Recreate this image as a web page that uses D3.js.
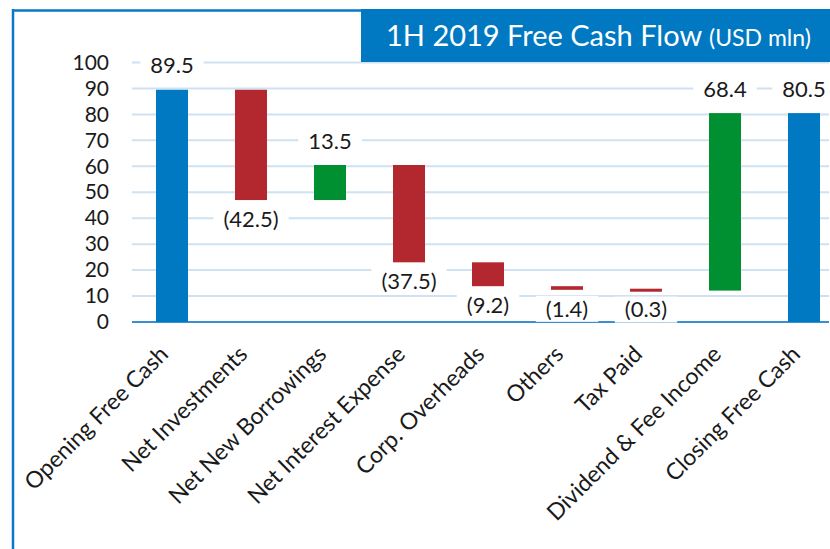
<!DOCTYPE html>
<html>
<head>
<meta charset="utf-8">
<script src="https://cdn.jsdelivr.net/npm/d3@7"></script>
<style>
  html, body { margin: 0; padding: 0; background: #fff; }
  svg { display: block; }
</style>
</head>
<body>
<svg id="chart" width="830" height="549"></svg>
<script>
const categories = ["Opening Free Cash", "Net Investments", "Net New Borrowings", "Net Interest Expense",
  "Corp. Overheads", "Others", "Tax Paid", "Dividend & Fee Income", "Closing Free Cash"];
const changes = [89.5, -42.5, 13.5, -37.5, -9.2, -1.4, -0.3, 68.4, 80.5];
const kinds = ["total", "delta", "delta", "delta", "delta", "delta", "delta", "delta", "total"];
const labels = ["89.5", "(42.5)", "13.5", "(37.5)", "(9.2)", "(1.4)", "(0.3)", "68.4", "80.5"];
const yTicks = [0, 10, 20, 30, 40, 50, 60, 70, 80, 90, 100];
const titleMain = "1H 2019 Free Cash Flow";
const titleUnit = "(USD mln)";

const colors = { total: "#0079c2", up: "#008f31", down: "#b3272e" };
const fontFam = "Lato, 'Open Sans', sans-serif";

// build waterfall
let run = 0;
const data = categories.map((c, i) => {
  let start, end, type;
  if (kinds[i] === "total") { start = 0; end = changes[i]; type = "total"; run = changes[i]; }
  else { start = run; end = run + changes[i]; run = end; type = changes[i] >= 0 ? "up" : "down"; }
  return { cat: c, start, end, type, label: labels[i], v: changes[i] };
});

const svg = d3.select("#chart");
const x = d3.scaleBand().domain(categories).range([132.5, 843.5]).paddingInner(0.595).paddingOuter(0.2975);
const y = d3.scaleLinear().domain([0, 100]).range([322, 62.5]);

svg.append("defs").append("clipPath").attr("id", "clip")
  .append("rect").attr("x", 0).attr("y", 0).attr("width", 829).attr("height", 549);

const g = svg.append("g").attr("clip-path", "url(#clip)");

// gridlines
g.append("g").selectAll("line").data(yTicks.filter(t => t > 0)).join("line")
  .attr("x1", 132).attr("x2", 830)
  .attr("y1", d => y(d)).attr("y2", d => y(d))
  .attr("stroke", "#cfe2f2").attr("stroke-width", 2);

// zero line
g.append("line").attr("x1", 132).attr("x2", 830).attr("y1", y(0)).attr("y2", y(0))
  .attr("stroke", "#3a8fd2").attr("stroke-width", 2);

// bars (thin bars kept visible with a minimum drawn height)
const minH = 3;
g.append("g").selectAll("rect").data(data).join("rect")
  .attr("x", d => x(d.cat))
  .attr("width", x.bandwidth())
  .attr("y", d => {
    const h = Math.abs(y(d.start) - y(d.end));
    const top = y(Math.max(d.start, d.end));
    return h < minH ? top - (minH - h) / 2 : top;
  })
  .attr("height", d => Math.max(minH, Math.abs(y(d.start) - y(d.end))))
  .attr("fill", d => colors[d.type]);

// data labels with white background
const lg = g.append("g");
data.forEach(d => {
  const cx = x(d.cat) + x.bandwidth() / 2;
  const top = y(Math.max(d.start, d.end));
  const bot = y(Math.min(d.start, d.end));
  const cy = d.v >= 0 ? top - 24 : bot + 19;
  const t = lg.append("text")
    .attr("x", cx).attr("y", cy).attr("dy", "0.35em")
    .attr("text-anchor", "middle")
    .attr("font-family", fontFam).attr("font-size", 22)
    .attr("fill", "#1a1a1a")
    .text(d.label);
  const w = t.node().getComputedTextLength();
  lg.insert("rect", "text").attr("x", cx - w / 2 - 10).attr("y", cy - 13).attr("width", w + 20).attr("height", 26)
    .attr("fill", "#fff");
});

// y axis labels
const yAxis = d3.axisLeft(y).tickValues(yTicks).tickSize(0).tickPadding(0);
const ya = svg.append("g").attr("transform", "translate(109,0)").call(yAxis);
ya.select(".domain").remove();
ya.selectAll("text").attr("font-family", fontFam).attr("font-size", 21).attr("fill", "#1a1a1a");

// x axis labels rotated
const xAxis = d3.axisBottom(x).tickSize(0).tickPadding(0);
const xa = svg.append("g").attr("transform", "translate(0,350)").call(xAxis);
xa.select(".domain").remove();
xa.selectAll("text")
  .attr("font-family", fontFam).attr("font-size", 23).attr("fill", "#1a1a1a")
  .attr("text-anchor", "end")
  .attr("dy", "0.35em")
  .attr("transform", "translate(-8,0) rotate(-45)");

// frame
svg.append("line").attr("x1", 13).attr("x2", 13).attr("y1", 9).attr("y2", 549)
  .attr("stroke", "#0a78c6").attr("stroke-width", 2.5);
svg.append("line").attr("x1", 12).attr("x2", 361).attr("y1", 10.5).attr("y2", 10.5)
  .attr("stroke", "#0a78c6").attr("stroke-width", 2.5);

// title box
svg.append("rect").attr("x", 361).attr("y", 9).attr("width", 469).attr("height", 53).attr("fill", "#0079c2");
const tt = svg.append("text").attr("x", 386).attr("y", 46)
  .attr("font-family", fontFam).attr("fill", "#fff");
tt.append("tspan").attr("font-size", 29).text(titleMain + " ");
tt.append("tspan").attr("font-size", 23).text(titleUnit);
</script>
</body>
</html>
